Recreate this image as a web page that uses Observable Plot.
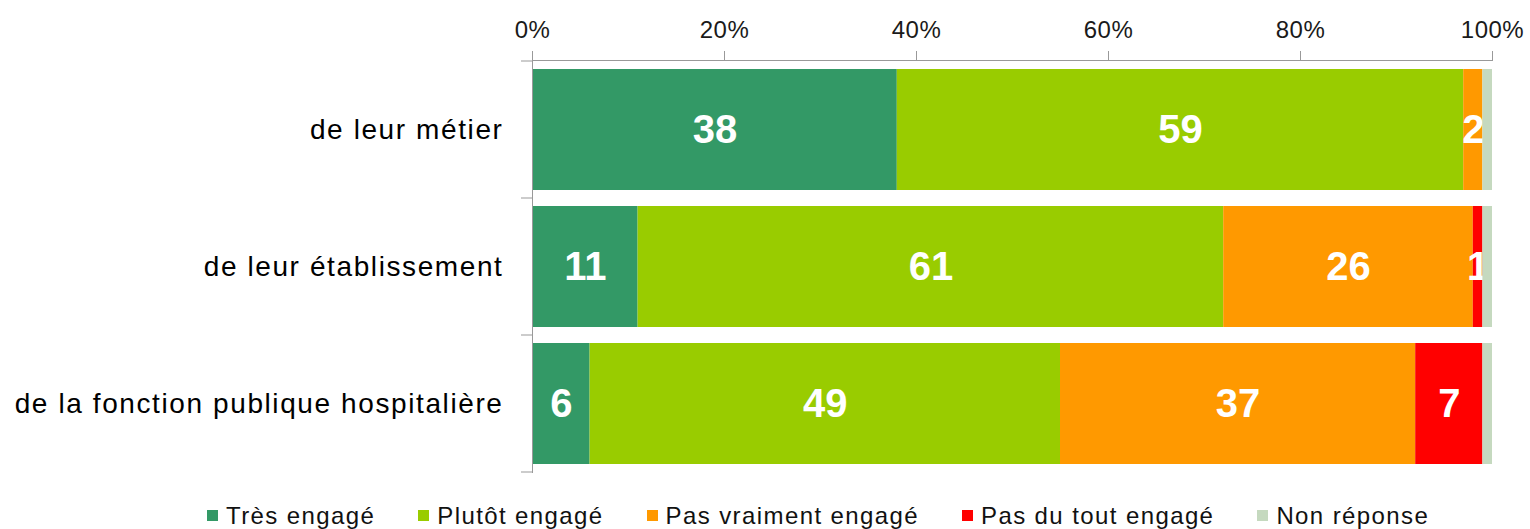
<!DOCTYPE html>
<html lang="fr">
<head>
<meta charset="utf-8">
<script src="https://cdn.jsdelivr.net/npm/d3@7"></script>
<script src="https://cdn.jsdelivr.net/npm/@observablehq/plot@0.6"></script>
<style>
  html, body { margin: 0; padding: 0; background: #fff; }
  #chart { width: 1530px; }
  .legend {
    display: flex; align-items: center; height: 49px; box-sizing: border-box;
    padding-left: 207px; padding-top: 22px; line-height: 24px;
    font-family: "Liberation Sans", Arial, sans-serif; font-size: 24px; color: #111;
    letter-spacing: 1.4px;
  }
  .legend .item { display: flex; align-items: center; margin-right: 43px; white-space: nowrap; }
  .legend .sw { width: 11px; height: 11px; margin-right: 8px; display: inline-block; }
</style>
</head>
<body>
<div id="chart"></div>
<script>
// Engagement toward each level (percent of respondents)
const categories = ["de leur métier", "de leur établissement", "de la fonction publique hospitalière"];
const series = ["Très engagé", "Plutôt engagé", "Pas vraiment engagé", "Pas du tout engagé", "Non réponse"];
const colors = ["#339966", "#99cc00", "#ff9900", "#ff0000", "#c5d9bf"];

const tresEngage      = [38, 11, 6];
const plutotEngage    = [59, 61, 49];
const pasVraiment     = [2, 26, 37];
const pasDuTout       = [0, 1, 7];
const nonReponse      = [1, 1, 1];

const xTicks = [0, 20, 40, 60, 80, 100];

const seriesValues = [tresEngage, plutotEngage, pasVraiment, pasDuTout, nonReponse];
const data = [];
categories.forEach((c, i) => {
  series.forEach((s, j) => data.push({category: c, series: s, value: seriesValues[j][i]}));
});

const font = `"Liberation Sans", Arial, sans-serif`;
const stack = {x: "value", y: "category", z: "series", order: series};

const plot = Plot.plot({
  width: 1530,
  height: 480,
  marginLeft: 532,
  marginRight: 38,
  marginTop: 60,
  marginBottom: 7,
  style: {fontFamily: font, background: "#fff"},
  x: {domain: [0, 100], label: null},
  y: {domain: categories, paddingInner: 0.115, paddingOuter: 0.0575, label: null},
  color: {domain: series, range: colors},
  marks: [
    // every segment except the non-response strip
    Plot.barX(data, Plot.filter(d => d.series !== "Non réponse", Plot.stackX({...stack, fill: "series"}))),
    // value labels in white, centred in each segment
    Plot.text(data, Plot.filter(d => d.series !== "Non réponse" && d.value > 0,
      Plot.stackX({...stack, text: d => String(d.value), fill: "#fff", fontWeight: "bold", fontSize: 40}))),
    // non-response strip drawn last, over the edge of neighbouring labels
    Plot.barX(data, Plot.filter(d => d.series === "Non réponse", Plot.stackX({...stack, fill: "series"}))),
    Plot.frame({anchor: "top", stroke: "#999"}),
    Plot.ruleX([0], {stroke: "#999"}),
    Plot.axisX({
      anchor: "top", ticks: xTicks, tickFormat: d => d + "%", label: null,
      tickSize: 10, tickPadding: 13, fontSize: 24, stroke: "#999", color: "#1a1a1a"
    }),
    Plot.axisY({anchor: "left", label: null, tickSize: 0, tickPadding: 29, fontSize: 28, color: "#000"})
  ]
});

d3.select(plot).selectAll("g[aria-label='y-axis tick label'] text")
  .attr("letter-spacing", "1.6px");
d3.select(plot).selectAll("g[aria-label='x-axis tick label'] text")
  .attr("letter-spacing", "0.5px");

// category boundary ticks on the left axis, taken from the band scale
const ys = plot.scale("y");
const gap = (ys.step - ys.bandwidth) / 2;
const bounds = categories.map(c => ys.apply(c) - gap);
bounds.push(ys.apply(categories[categories.length - 1]) + ys.bandwidth + gap);
const x0 = plot.scale("x").apply(0);
d3.select(plot).append("g").attr("stroke", "#999")
  .selectAll("line").data(bounds).join("line")
  .attr("x1", x0 - 11).attr("x2", x0).attr("y1", d => d).attr("y2", d => d);

document.getElementById("chart").append(plot);

// legend below the chart
const legend = d3.select("#chart").append("div").attr("class", "legend");
const items = legend.selectAll(".item").data(series).join("div").attr("class", "item");
items.append("span").attr("class", "sw").style("background", (d, i) => colors[i]);
items.append("span").text(d => d);
</script>
</body>
</html>
